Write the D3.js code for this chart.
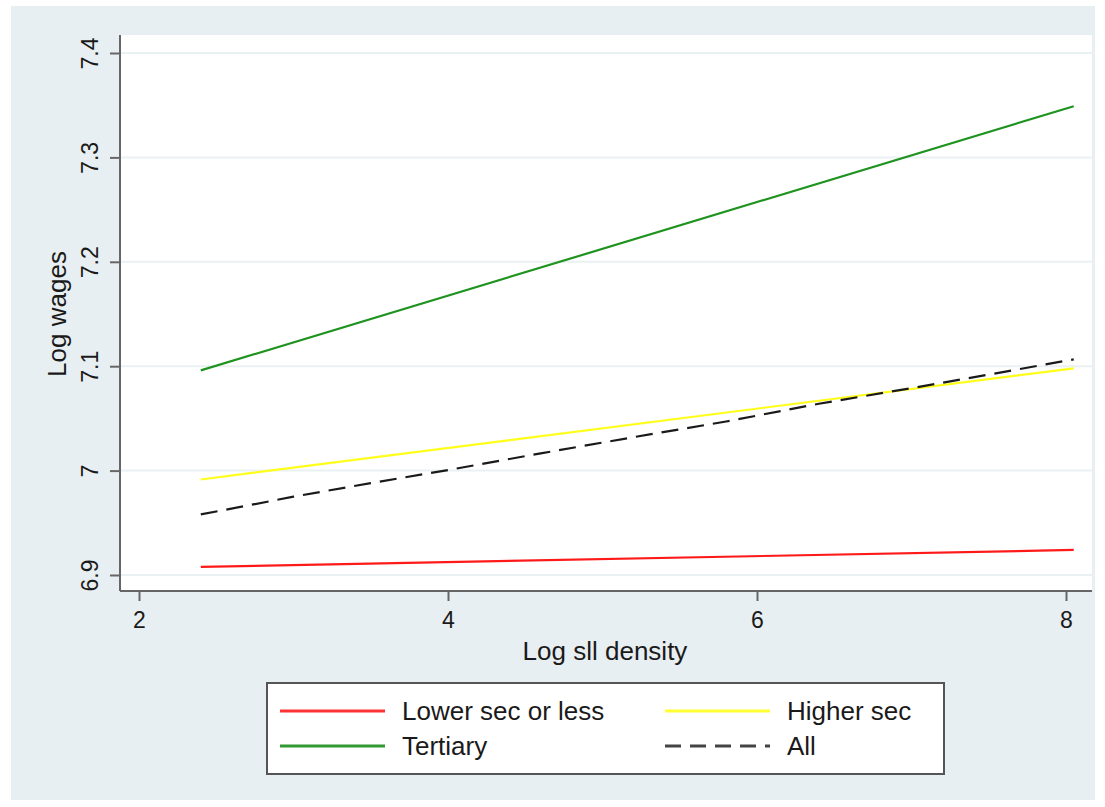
<!DOCTYPE html>
<html><head><meta charset="utf-8">
<script src="https://cdn.jsdelivr.net/npm/d3@7"></script>
<style>body{margin:0;background:#fff}svg{display:block}text{font-family:"Liberation Sans",Arial,sans-serif;fill:#1a1a1a}</style>
</head><body><svg id="c" width="1105" height="807"></svg>
<script>
const xTicks = [2, 4, 6, 8];
const yTicks = [6.9, 7, 7.1, 7.2, 7.3, 7.4];
const yTickLabels = ["6.9", "7", "7.1", "7.2", "7.3", "7.4"];
const seriesNames = ["Lower sec or less", "Higher sec", "Tertiary", "All"];
const xLower = [2.40, 8.05];
const lowerSec = [6.9077, 6.9240];
const xHigher = [2.40, 8.05];
const higherSec = [6.9915, 7.0980];
const xTertiary = [2.40, 8.05];
const tertiary = [7.0960, 7.3490];
const xAll = [2.40, 3.0, 3.5, 4.0, 4.6, 5.2, 5.8, 6.4, 7.0, 7.5, 8.05];
const allVals = [6.9580, 6.9750, 6.9880, 7.0005, 7.0165, 7.0320, 7.0470, 7.0640, 7.0790, 7.0920, 7.1065];

const FONT = '"Liberation Sans",Arial,sans-serif';
const svg = d3.select("#c");
svg.append("rect").attr("x",11).attr("y",6).attr("width",1084).attr("height",794).attr("fill","#e8eff2");
const L=120, R=1092, T=35, B=591;
svg.append("rect").attr("x",L).attr("y",T).attr("width",R-L).attr("height",B-T).attr("fill","#fff");

const x = d3.scaleLinear().domain([2,8]).range([139,1066]);
const y = d3.scaleLinear().domain([6.9,7.4]).range([575,53]);

// gridlines
svg.append("g").selectAll("line").data(yTicks).join("line")
  .attr("x1",L+1).attr("x2",R).attr("y1",d=>y(d)).attr("y2",d=>y(d))
  .attr("stroke","#eaf1f2").attr("stroke-width",2);

// axes
const yAxis = svg.append("g").attr("transform",`translate(${L},0)`)
  .call(d3.axisLeft(y).tickValues(yTicks).tickSize(10).tickFormat((d,i)=>yTickLabels[i]));
yAxis.select(".domain").attr("d",`M0,${T}V${B}`).attr("stroke","#666").attr("stroke-width",2);
yAxis.selectAll(".tick line").attr("stroke","#666").attr("stroke-width",2);
yAxis.selectAll(".tick text").attr("transform","translate(-22,0) rotate(-90)").attr("x",0).attr("y",0).attr("dy",0)
  .attr("text-anchor","middle").style("font-size","23px").style("font-family",FONT).attr("fill","#1a1a1a");

const xAxis = svg.append("g").attr("transform",`translate(0,${B})`)
  .call(d3.axisBottom(x).tickValues(xTicks).tickSize(10).tickFormat(d3.format("d")));
xAxis.select(".domain").attr("d",`M${L},0H${R}`).attr("stroke","#666").attr("stroke-width",2);
xAxis.selectAll(".tick line").attr("stroke","#666").attr("stroke-width",2);
xAxis.selectAll(".tick text").attr("y",21).attr("dy","0.71em").style("font-size","23px")
  .style("font-family",FONT).attr("fill","#1a1a1a");

svg.append("text").attr("transform","translate(66,314) rotate(-90)").attr("text-anchor","middle")
  .style("font-size","26px").text("Log wages");
svg.append("text").attr("x",605).attr("y",660).attr("text-anchor","middle")
  .style("font-size","26px").text("Log sll density");

const line = d3.line().x(d=>x(d[0])).y(d=>y(d[1]));
const series = [
  {xs:xLower, ys:lowerSec, color:"#ff1a1a", dash:null},
  {xs:xHigher, ys:higherSec, color:"#ffff1a", dash:null},
  {xs:xTertiary, ys:tertiary, color:"#1f931f", dash:null},
  {xs:xAll, ys:allVals, color:"#1a1a1a", dash:"17,9"}
];
series.forEach(s=>{
  svg.append("path").datum(s.xs.map((v,i)=>[v,s.ys[i]])).attr("d",line)
    .attr("fill","none").attr("stroke",s.color).attr("stroke-width",2.2)
    .attr("stroke-dasharray",s.dash);
});

// legend
svg.append("rect").attr("x",267).attr("y",683).attr("width",677).attr("height",91)
  .attr("fill","#fff").attr("stroke","#555").attr("stroke-width",2);
const legPos = [[280,711],[665,711],[280,746],[665,746]];
const legColors = ["#ff3333","#ffff33","#339933","#444"];
const legDash = [null,null,null,"16,9"];
seriesNames.forEach((n,i)=>{
  const [lx,ly]=legPos[i];
  svg.append("line").attr("x1",lx).attr("x2",lx+105).attr("y1",ly).attr("y2",ly)
    .attr("stroke",legColors[i]).attr("stroke-width",3).attr("stroke-dasharray",legDash[i]);
  svg.append("text").attr("x",lx+122).attr("y",ly).attr("dy","0.36em").style("font-size","26px").text(n);
});
</script></body></html>
